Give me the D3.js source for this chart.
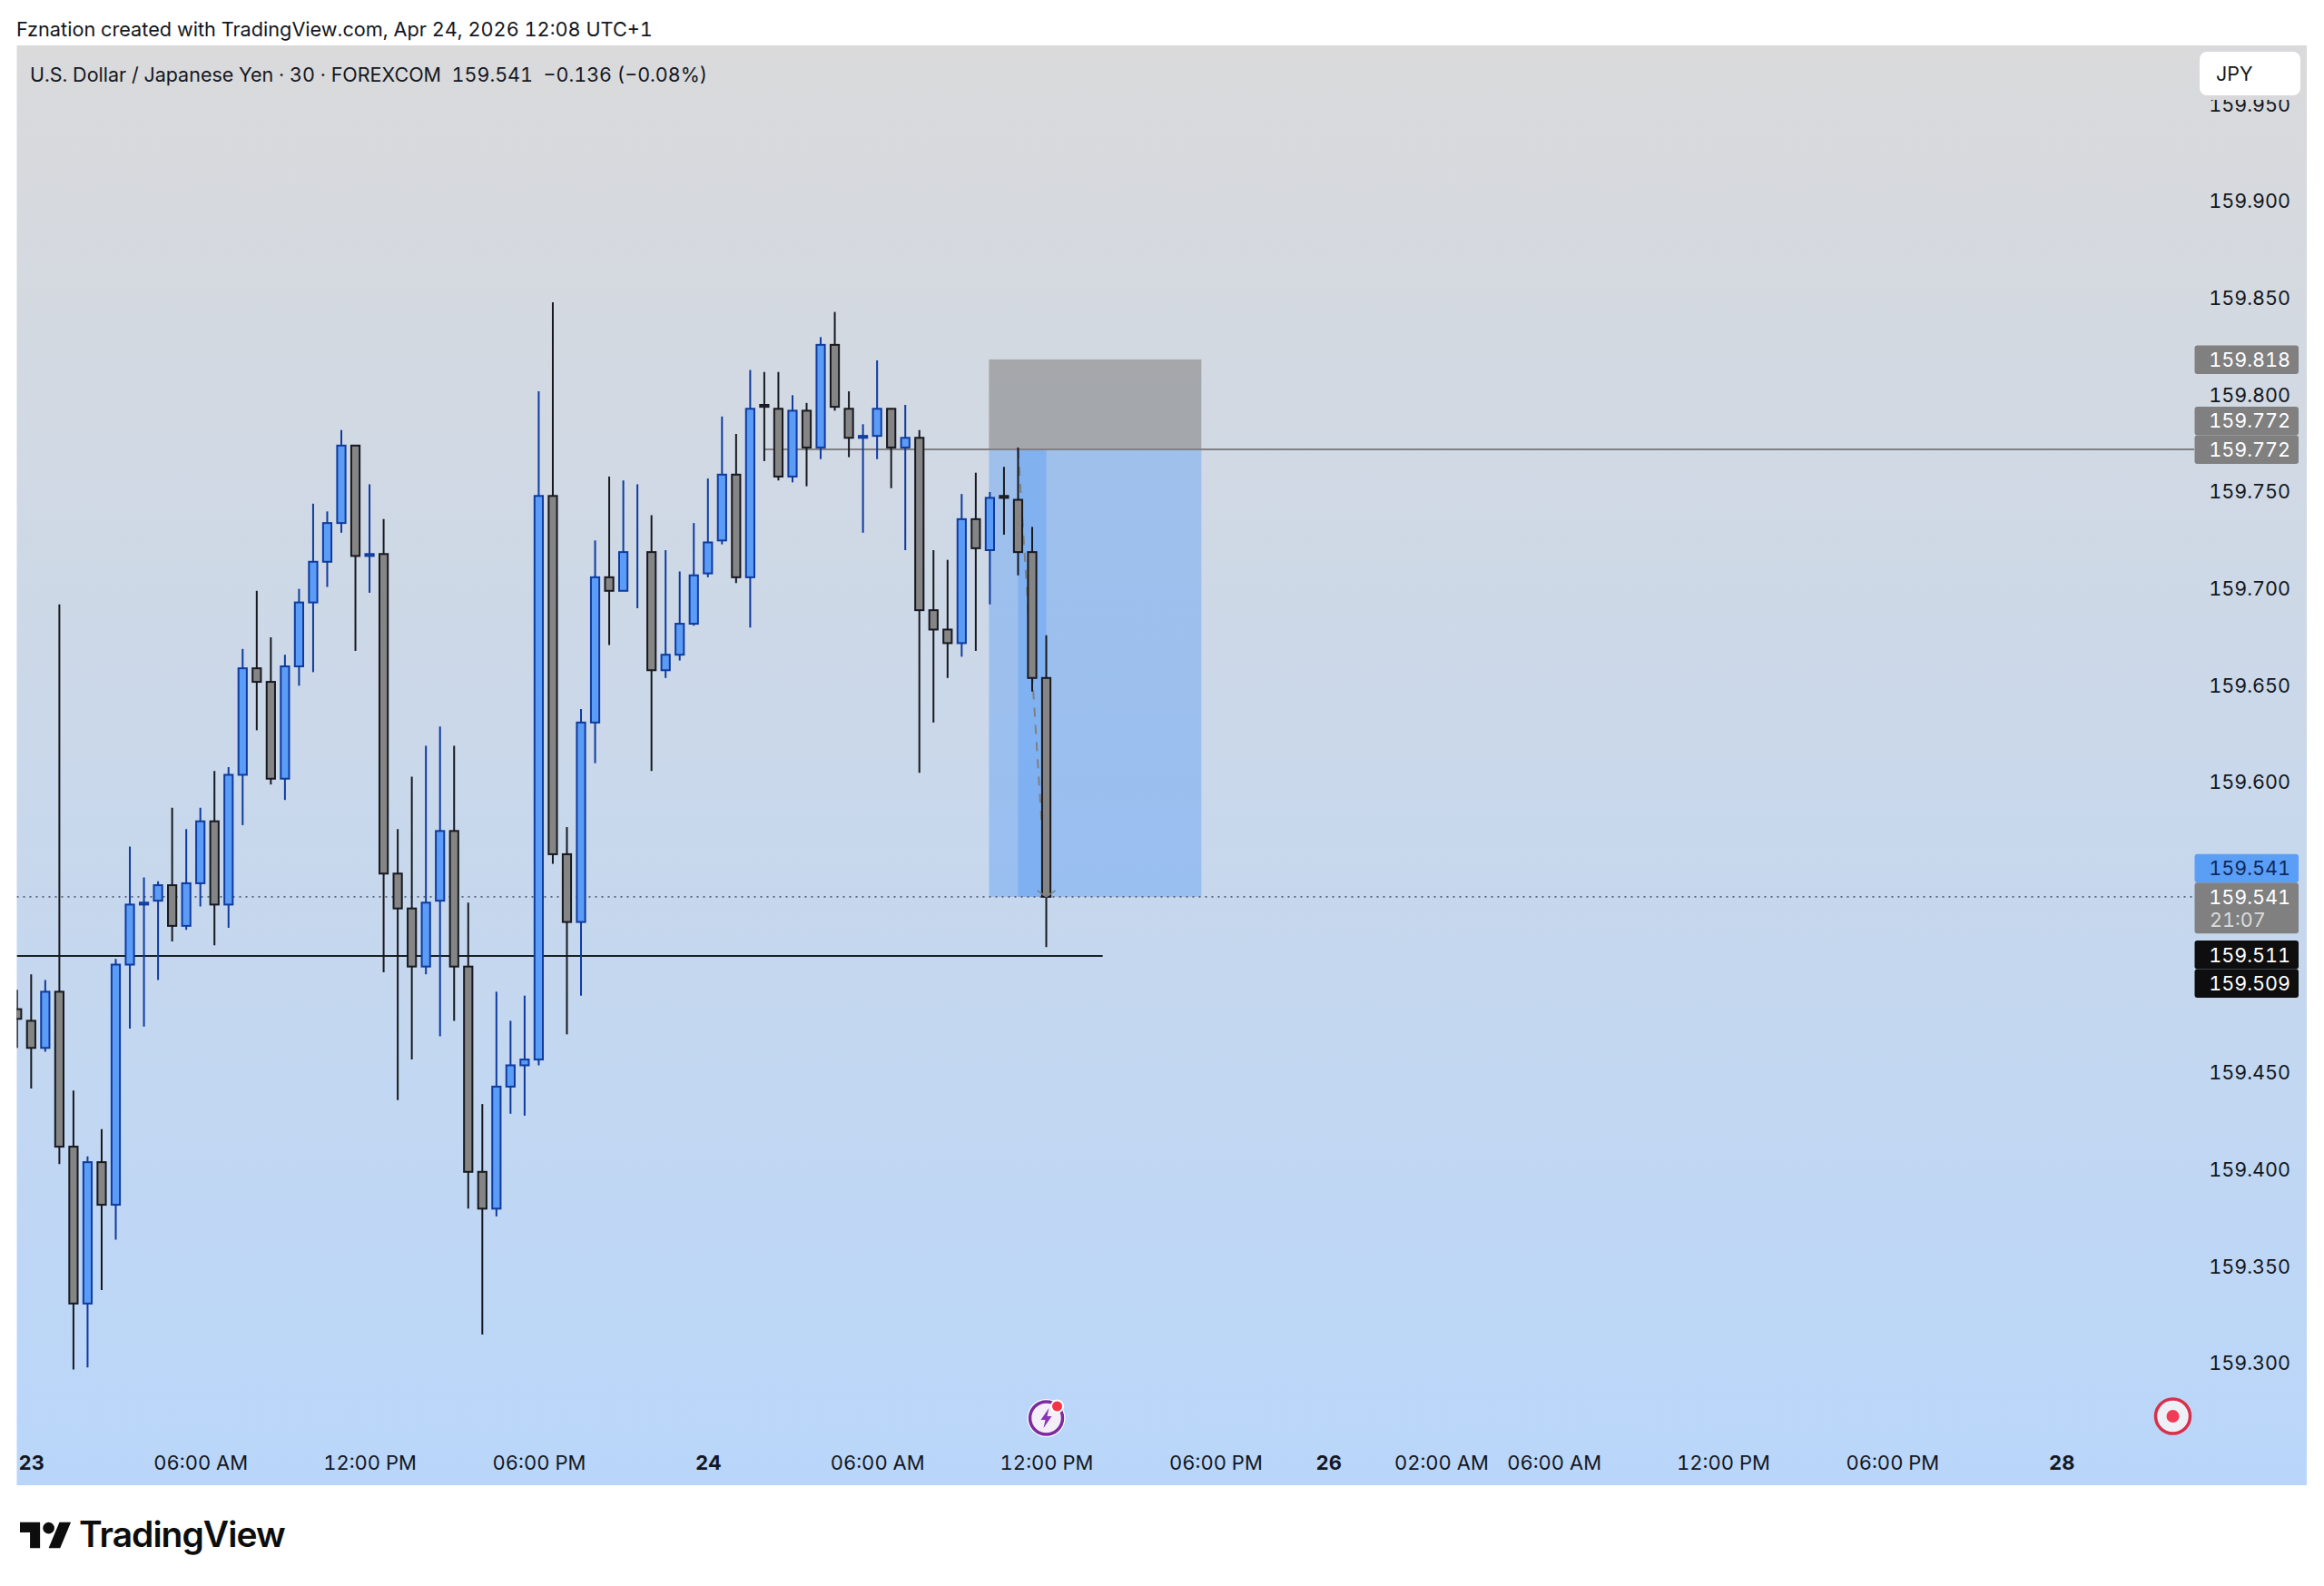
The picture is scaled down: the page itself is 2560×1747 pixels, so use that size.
<!DOCTYPE html>
<html>

<head>
    <meta charset="utf-8">
    <title>USDJPY 30</title>
    <style>
        body {
            margin: 0;
            padding: 0;
            background-color: #fff;
        }

        text {
            font-family: Inter, "Noto Sans", sans-serif;
            fill: #131722;
            font-variant-numeric: tabular-nums;
        }

        .axis-y text, .axis-x text {
            font-size: 22px;
            font-weight: 400;
        }

        .axis-y text {
            font-size: 21.6px;
        }

        .axis-x .day text {
            font-weight: 700;
        }

        .domain {
            display: none;
        }
    </style>
</head>

<body>
    <div id="chart"></div>
    <script src="https://d3js.org/d3.v7.min.js"></script>
    <script>
const opens = [159.483, 159.477, 159.463, 159.492, 159.412, 159.331, 159.404, 159.382, 159.506, 159.537,
    159.539, 159.547, 159.526, 159.548, 159.580, 159.537, 159.604, 159.659, 159.652, 159.602,
    159.660, 159.693, 159.714, 159.734, 159.774, 159.717, 159.718, 159.553, 159.535, 159.505,
    159.539, 159.575, 159.505, 159.399, 159.380, 159.443, 159.454, 159.457, 159.748, 159.563,
    159.528, 159.631, 159.706, 159.699, 159.719, 159.719, 159.658, 159.666, 159.682, 159.708,
    159.725, 159.759, 159.706, 159.795, 159.793, 159.758, 159.792, 159.773, 159.826, 159.793,
    159.778, 159.779, 159.793, 159.773, 159.778, 159.689, 159.679, 159.672, 159.736, 159.720,
    159.748, 159.746, 159.719, 159.654];
const closes = [159.478, 159.463, 159.492, 159.412, 159.331, 159.404, 159.382, 159.506, 159.537, 159.538,
    159.547, 159.526, 159.548, 159.580, 159.537, 159.604, 159.659, 159.652, 159.602, 159.660,
    159.693, 159.714, 159.734, 159.774, 159.717, 159.718, 159.553, 159.535, 159.505, 159.538,
    159.575, 159.505, 159.399, 159.380, 159.443, 159.454, 159.457, 159.748, 159.563, 159.528,
    159.631, 159.706, 159.699, 159.719, 159.719, 159.658, 159.666, 159.682, 159.707, 159.724,
    159.759, 159.706, 159.793, 159.794, 159.758, 159.792, 159.773, 159.826, 159.794, 159.778,
    159.779, 159.793, 159.773, 159.778, 159.689, 159.679, 159.672, 159.736, 159.721, 159.747,
    159.747, 159.719, 159.654, 159.541];
const highs = [159.493, 159.501, 159.498, 159.692, 159.441, 159.407, 159.421, 159.509, 159.567, 159.551,
    159.549, 159.587, 159.576, 159.587, 159.606, 159.608, 159.669, 159.699, 159.675, 159.666,
    159.700, 159.744, 159.740, 159.782, 159.774, 159.754, 159.736, 159.576, 159.603, 159.619,
    159.629, 159.619, 159.538, 159.434, 159.492, 159.477, 159.490, 159.802, 159.848, 159.577,
    159.638, 159.725, 159.758, 159.756, 159.754, 159.738, 159.720, 159.709, 159.734, 159.757,
    159.789, 159.780, 159.813, 159.812, 159.812, 159.800, 159.796, 159.830, 159.843, 159.802,
    159.785, 159.818, 159.793, 159.795, 159.782, 159.720, 159.715, 159.749, 159.760, 159.750,
    159.763, 159.773, 159.732, 159.676];
const lows = [159.463, 159.442, 159.461, 159.403, 159.297, 159.298, 159.338, 159.364, 159.473, 159.474,
    159.498, 159.518, 159.524, 159.536, 159.516, 159.525, 159.578, 159.627, 159.599, 159.591,
    159.650, 159.657, 159.701, 159.729, 159.668, 159.698, 159.502, 159.436, 159.457, 159.501,
    159.469, 159.477, 159.380, 159.315, 159.376, 159.429, 159.428, 159.454, 159.558, 159.470,
    159.490, 159.610, 159.671, 159.699, 159.690, 159.606, 159.654, 159.663, 159.681, 159.706,
    159.723, 159.703, 159.680, 159.766, 159.756, 159.755, 159.753, 159.767, 159.792, 159.768,
    159.729, 159.767, 159.752, 159.720, 159.605, 159.631, 159.654, 159.665, 159.668, 159.692,
    159.728, 159.707, 159.647, 159.515];

const priceTicks = [159.95, 159.9, 159.85, 159.8, 159.75, 159.7, 159.65, 159.6, 159.45, 159.4, 159.35, 159.3];
const timeTicks = [1, 13, 25, 37, 49, 61, 73, 85, 93, 101, 109, 121, 133, 145];
const timeLabels = ["23", "06:00 AM", "12:00 PM", "06:00 PM", "24", "06:00 AM", "12:00 PM", "06:00 PM", "26", "02:00 AM", "06:00 AM", "12:00 PM", "06:00 PM", "28"];
const dayLabels = ["23", "24", "26", "28"];

const stopPrice = 159.818;
const entryPrice = 159.772;
const targetPrice = 159.541;
const levelPrice = 159.5105;

const pane = { left: 18.5, top: 50, right: 2541, bottom: 1636 };
const gutterLeft = 2417;

const blueBody = "#5b9cf6";
const blueLine = "#0f3b9f";
const greyBody = "#858585";
const greyLine = "#17191f";

const x = d3.scaleLinear().domain([0, 145]).range([18.8, 2270.7]);
const y = d3.scaleLinear().domain([159.9, 159.3]).range([222, 1502]);

const svg = d3.select("#chart")
    .append("svg")
    .attr("width", 2560)
    .attr("height", 1747)
    .style("display", "block");

const defs = svg.append("defs");
const grad = defs.append("linearGradient")
    .attr("id", "paneBg")
    .attr("x1", 0).attr("x2", 0).attr("y1", 0).attr("y2", 1);
grad.append("stop").attr("offset", "0%").attr("stop-color", "#dadadb");
grad.append("stop").attr("offset", "100%").attr("stop-color", "#b9d6fa");

defs.append("clipPath")
    .attr("id", "paneClip")
    .append("rect")
    .attr("x", pane.left)
    .attr("y", pane.top)
    .attr("width", pane.right - pane.left)
    .attr("height", pane.bottom - pane.top);

svg.append("rect")
    .attr("x", pane.left)
    .attr("y", pane.top)
    .attr("width", pane.right - pane.left)
    .attr("height", pane.bottom - pane.top)
    .attr("fill", "url(#paneBg)");

svg.append("text")
    .attr("x", 18)
    .attr("y", 40)
    .style("font-size", "21.7px")
    .text("Fznation created with TradingView.com, Apr 24, 2026 12:08 UTC+1");

const plot = svg.append("g").attr("clip-path", "url(#paneClip)");

// short position tool, behind the candles
const toolStart = x(69) - 1;
const toolEnd = x(84);
plot.append("rect")
    .attr("x", toolStart)
    .attr("y", y(stopPrice) - 1)
    .attr("width", toolEnd - toolStart)
    .attr("height", y(entryPrice) - y(stopPrice) + 1)
    .attr("fill", "rgba(128,128,128,0.56)");
plot.append("rect")
    .attr("x", toolStart)
    .attr("y", y(entryPrice))
    .attr("width", toolEnd - toolStart)
    .attr("height", y(targetPrice) - y(entryPrice))
    .attr("fill", "rgba(90,158,245,0.42)");
plot.append("rect")
    .attr("x", x(71))
    .attr("y", y(entryPrice))
    .attr("width", x(73) - x(71))
    .attr("height", y(targetPrice) - y(entryPrice))
    .attr("fill", "rgba(90,158,245,0.42)");
plot.append("line")
    .attr("x1", x(71))
    .attr("x2", x(73))
    .attr("y1", y(entryPrice))
    .attr("y2", y(targetPrice))
    .attr("stroke", "#808080")
    .attr("stroke-width", 2)
    .attr("stroke-dasharray", "10 9");

// price lines
plot.append("line")
    .attr("x1", x(53))
    .attr("x2", gutterLeft)
    .attr("y1", y(entryPrice))
    .attr("y2", y(entryPrice))
    .attr("stroke", "#808285")
    .attr("stroke-width", 2);
plot.append("line")
    .attr("x1", pane.left)
    .attr("x2", gutterLeft)
    .attr("y1", y(targetPrice))
    .attr("y2", y(targetPrice))
    .attr("stroke", "#56657c")
    .attr("stroke-width", 1.6)
    .attr("stroke-dasharray", "2 5");
plot.append("line")
    .attr("x1", pane.left)
    .attr("x2", x(77))
    .attr("y1", y(levelPrice))
    .attr("y2", y(levelPrice))
    .attr("stroke", "#1b2026")
    .attr("stroke-width", 2);

// candles
const candles = plot.selectAll(".candle")
    .data(opens.map((o, i) => ({ i: i, o: o, c: closes[i], h: highs[i], l: lows[i] })))
    .enter()
    .append("g")
    .attr("class", "candle");

candles.append("line")
    .attr("x1", d => x(d.i))
    .attr("x2", d => x(d.i))
    .attr("y1", d => y(d.h))
    .attr("y2", d => y(d.l))
    .attr("stroke", d => d.c >= d.o ? blueLine : greyLine)
    .attr("stroke-width", 2);

candles.append("rect")
    .attr("x", d => x(d.i) - 4.6)
    .attr("y", d => y(Math.max(d.o, d.c)))
    .attr("width", 9.2)
    .attr("height", d => Math.abs(y(d.o) - y(d.c)))
    .attr("fill", d => d.c >= d.o ? blueBody : greyBody)
    .attr("stroke", d => d.c >= d.o ? blueLine : greyLine)
    .attr("stroke-width", 2);

// arrow head of the dashed path
plot.append("path")
    .attr("d", d3.line()([[x(73) - 10, y(targetPrice) - 7], [x(73), y(targetPrice)], [x(73) + 10, y(targetPrice) - 7]]))
    .attr("fill", "none")
    .attr("stroke", "#808080")
    .attr("stroke-width", 1.5);

// axes
const xAxis = d3.axisBottom(x)
    .tickValues(timeTicks)
    .tickSize(0)
    .tickPadding(0)
    .tickFormat((d, i) => timeLabels[i]);
const xAxisG = svg.append("g")
    .attr("class", "axis-x")
    .attr("transform", "translate(0,1603.5)")
    .call(xAxis);
xAxisG.selectAll(".tick")
    .classed("day", (d, i) => dayLabels.includes(timeLabels[i]));

const yAxis = d3.axisRight(y)
    .tickValues(priceTicks)
    .tickSize(0)
    .tickPadding(0)
    .tickFormat(d3.format(".3f"));
svg.append("g")
    .attr("class", "axis-y")
    .attr("transform", "translate(2523,0)")
    .call(yAxis)
    .selectAll("text")
    .attr("text-anchor", "end");

// legend and currency button
svg.append("text")
    .attr("x", 33)
    .attr("y", 90)
    .style("font-size", "21.5px")
    .attr("xml:space", "preserve")
    .text("U.S. Dollar / Japanese Yen \u00b7 30 \u00b7 FOREXCOM  159.541  \u22120.136 (\u22120.08%)");

svg.append("rect")
    .attr("x", 2423)
    .attr("y", 52)
    .attr("width", 111)
    .attr("height", 58)
    .attr("fill", "#d9d9db");
svg.append("rect")
    .attr("x", 2423)
    .attr("y", 57)
    .attr("width", 111)
    .attr("height", 48)
    .attr("rx", 8)
    .attr("fill", "#fff");
svg.append("text")
    .attr("x", 2441)
    .attr("y", 89)
    .style("font-size", "21.5px")
    .text("JPY");

// price badges on the right scale
function badge(top, height, fill, lines) {
    svg.append("rect")
        .attr("x", 2417.5)
        .attr("y", top)
        .attr("width", 114.5)
        .attr("height", height)
        .attr("rx", 3)
        .attr("fill", fill.bg);
    lines.forEach(t => {
        svg.append("text")
            .attr("x", 2523)
            .attr("y", t.y)
            .attr("text-anchor", t.anchor || "end")
            .attr("dx", t.anchor ? -89 : 0)
            .style("font-size", "21.6px")
            .style("fill", t.color || fill.fg)
            .text(t.text);
    });
}

const greyBadge = { bg: "#808080", fg: "#fff" };
const blackBadge = { bg: "#0e0e0e", fg: "#fff" };
const badgeH = 31.5;
badge(y(stopPrice) - 16.5, badgeH, greyBadge, [{ y: y(stopPrice) + 7, text: "159.818" }]);
badge(y(entryPrice) - 47, badgeH, greyBadge, [{ y: y(entryPrice) - 24, text: "159.772" }]);
badge(y(entryPrice) - 15.5, badgeH, greyBadge, [{ y: y(entryPrice) + 8, text: "159.772" }]);
badge(y(targetPrice) - 47, badgeH, { bg: "#5b9ef6", fg: "#0e2a5c" }, [{ y: y(targetPrice) - 24, text: "159.541" }]);
badge(y(targetPrice) - 15.5, 56, greyBadge, [
    { y: y(targetPrice) + 8, text: "159.541" },
    { y: y(targetPrice) + 33, text: "21:07", anchor: "start", color: "#dcdcdc" }
]);
badge(y(levelPrice) - 17, badgeH, blackBadge, [{ y: y(levelPrice) + 7, text: "159.511" }]);
badge(y(levelPrice) + 14.5, badgeH, blackBadge, [{ y: y(levelPrice) + 38, text: "159.509" }]);

// event markers on the time scale
const bolt = svg.append("g").attr("transform", `translate(${x(73)},1562)`);
bolt.append("circle").attr("r", 21).attr("fill", "#fff");
bolt.append("circle").attr("r", 18).attr("fill", "#f3eef7").attr("stroke", "#7d2a9e").attr("stroke-width", 3.5);
bolt.append("path")
    .attr("d", "M3,-11 L-6,2 L-1,2 L-3,11 L6,-2 L1,-2 Z")
    .attr("fill", "#8a34b8");
bolt.append("circle").attr("cx", 12).attr("cy", -13).attr("r", 7.5).attr("fill", "#fff");
bolt.append("circle").attr("cx", 12).attr("cy", -13).attr("r", 5.5).attr("fill", "#f23645");

const rec = svg.append("g").attr("transform", "translate(2393.5,1560)");
rec.append("circle").attr("r", 19).attr("fill", "#eef0f8").attr("stroke", "#d8304a").attr("stroke-width", 3.5);
rec.append("circle").attr("r", 7).attr("fill", "#f23c55");

// footer logo
svg.append("path")
    .attr("transform", "translate(22,1670.5) scale(1.58)")
    .attr("fill", "#0d0d0d")
    .attr("d", "M14 22H7V11H0V4h14v18zM28 22h-8l7.5-18h8L28 22z");
svg.append("circle")
    .attr("cx", 22 + 20 * 1.58)
    .attr("cy", 1670.5 + 8 * 1.58)
    .attr("r", 4 * 1.58)
    .attr("fill", "#0d0d0d");
svg.append("text")
    .attr("x", 87)
    .attr("y", 1704)
    .style("font-size", "39px")
    .style("font-weight", 600)
    .style("letter-spacing", "-1px")
    .style("fill", "#0d0d0d")
    .text("TradingView");
    </script>
</body>

</html>
